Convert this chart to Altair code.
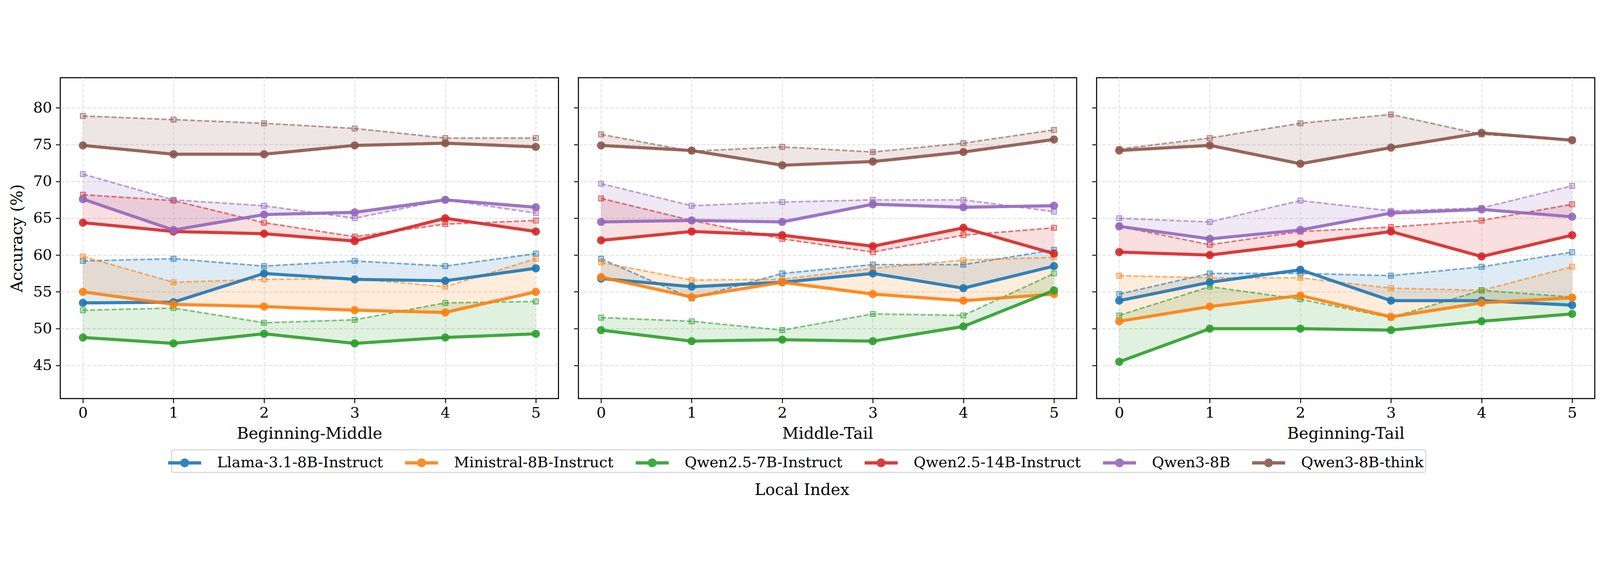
import math
import altair as alt
import pandas as pd

models = ["Llama-3.1-8B-Instruct", "Ministral-8B-Instruct", "Qwen2.5-7B-Instruct",
          "Qwen2.5-14B-Instruct", "Qwen3-8B", "Qwen3-8B-think"]
colors = ["#1f77b4", "#ff7f0e", "#2ca02c", "#d62728", "#9467bd", "#8c564b"]
panels = ["Beginning-Middle", "Middle-Tail", "Beginning-Tail"]
local_index = [0, 1, 2, 3, 4, 5]
y_ticks = [45, 50, 55, 60, 65, 70, 75, 80]

# solid lines (circle markers), one row per model in `models` order
bm_solid = [
    [53.5, 53.6, 57.5, 56.7, 56.5, 58.2],
    [55.0, 53.3, 53.0, 52.5, 52.2, 55.0],
    [48.8, 48.0, 49.3, 48.0, 48.8, 49.3],
    [64.4, 63.2, 62.9, 61.9, 65.0, 63.2],
    [67.6, 63.4, 65.5, 65.8, 67.5, 66.5],
    [74.9, 73.7, 73.7, 74.9, 75.2, 74.7],
]
# dashed lines (square markers)
bm_dashed = [
    [59.2, 59.5, 58.5, 59.2, 58.5, 60.2],
    [59.8, 56.3, 56.7, 56.8, 55.7, 59.5],
    [52.5, 52.8, 50.8, 51.2, 53.5, 53.7],
    [68.2, 67.4, 64.4, 62.5, 64.2, 64.7],
    [71.0, 67.5, 66.7, 65.0, 67.5, 65.7],
    [78.9, 78.4, 77.9, 77.2, 75.9, 75.9],
]
mt_solid = [
    [56.8, 55.7, 56.3, 57.5, 55.5, 58.5],
    [57.0, 54.3, 56.3, 54.7, 53.8, 54.7],
    [49.8, 48.3, 48.5, 48.3, 50.3, 55.2],
    [62.0, 63.2, 62.7, 61.2, 63.7, 60.2],
    [64.5, 64.7, 64.5, 66.9, 66.5, 66.7],
    [74.9, 74.2, 72.2, 72.7, 74.0, 75.7],
]
mt_dashed = [
    [59.5, 54.1, 57.5, 58.7, 58.7, 60.7],
    [59.0, 56.6, 56.7, 58.2, 59.3, 59.7],
    [51.5, 51.0, 49.8, 52.0, 51.8, 57.5],
    [67.7, 64.7, 62.2, 60.4, 62.7, 63.7],
    [69.7, 66.7, 67.2, 67.5, 67.5, 65.9],
    [76.4, 74.1, 74.7, 74.0, 75.2, 77.0],
]
bt_solid = [
    [53.8, 56.3, 58.0, 53.8, 53.8, 53.2],
    [51.0, 53.0, 54.5, 51.6, 53.5, 54.2],
    [45.5, 50.0, 50.0, 49.8, 51.0, 52.0],
    [60.4, 60.0, 61.5, 63.2, 59.8, 62.7],
    [63.9, 62.2, 63.4, 65.7, 66.2, 65.2],
    [74.2, 74.9, 72.4, 74.6, 76.6, 75.6],
]
bt_dashed = [
    [54.7, 57.5, 57.5, 57.2, 58.4, 60.4],
    [57.2, 56.9, 56.9, 55.5, 55.2, 58.4],
    [51.8, 55.7, 54.0, 51.5, 55.2, 54.3],
    [63.9, 61.4, 63.2, 63.8, 64.7, 66.9],
    [65.0, 64.5, 67.4, 66.0, 66.4, 69.4],
    [74.4, 75.9, 77.9, 79.1, 76.4, 75.7],
]

FONT = "DejaVu Serif"
W, H = 1674, 1078

all_vals = [v for grp in (bm_solid, bm_dashed, mt_solid, mt_dashed, bt_solid, bt_dashed)
            for row in grp for v in row]
y_dom = [min(all_vals) - 5, max(all_vals) + 5]

# legend glyph: thick line with a dot (polygonal circle)
circ = " ".join(
    ("M" if k == 0 else "L") + f"{0.4 * math.cos(2 * math.pi * k / 24):.3f},"
    f"{0.4 * math.sin(2 * math.pi * k / 24):.3f}" for k in range(24)) + " Z"
legend_path = "M-1.5,-0.15 L1.5,-0.15 L1.5,0.15 L-1.5,0.15 Z " + circ

legend = alt.Legend(
    orient="none", legendX=374, legendY=1250, direction="horizontal", columns=6,
    title=None, symbolType=legend_path, symbolSize=5476, symbolStrokeWidth=0,
    symbolOpacity=0.9, labelFont=FONT, labelFontSize=50, labelColor="black",
    labelLimit=3000, labelOffset=72, columnPadding=73, padding=7,
    strokeColor="#d4d4d4", cornerRadius=8, fillColor="white",
)
color = alt.Color("model:N", scale=alt.Scale(domain=models, range=colors), legend=legend)
stroke = alt.Stroke("model:N", scale=alt.Scale(domain=models, range=colors), legend=None)


def panel(name, solid, dashed, first):
    rows = []
    for m, s, d in zip(models, solid, dashed):
        for i, a, b in zip(local_index, s, d):
            rows.append({"model": m, "idx": i, "solid": a, "dashed": b})
    df = pd.DataFrame(rows)
    x = alt.X("idx:Q", scale=alt.Scale(domain=[-0.25, 5.25], nice=False, zero=False),
              axis=alt.Axis(values=local_index, format="d", title=name))
    yscale = alt.Scale(domain=y_dom, nice=False, zero=False)
    if first:
        yaxis = alt.Axis(values=y_ticks, title="Accuracy (%)")
    else:
        yaxis = alt.Axis(values=y_ticks, title=None, labels=False)
    base = alt.Chart(df)
    area = base.mark_area(opacity=0.15).encode(
        x=x, y=alt.Y("solid:Q", scale=yscale, axis=yaxis), y2="dashed:Q", color=color)
    dline = base.mark_line(strokeDash=[17, 7], strokeWidth=5.5, opacity=0.6).encode(
        x=x, y=alt.Y("dashed:Q", scale=yscale, axis=yaxis), color=color)
    sq = base.mark_square(size=290, filled=True, fillOpacity=0.3, strokeOpacity=0.65,
                          strokeWidth=3).encode(
        x=x, y=alt.Y("dashed:Q", scale=yscale, axis=yaxis), color=color, stroke=stroke)
    sline = base.mark_line(strokeWidth=10.5, opacity=0.9).encode(
        x=x, y=alt.Y("solid:Q", scale=yscale, axis=yaxis), color=color)
    dots = base.mark_circle(size=760, opacity=0.9).encode(
        x=x, y=alt.Y("solid:Q", scale=yscale, axis=yaxis), color=color)
    return alt.layer(area, dline, sq, sline, dots).properties(width=W, height=H)


chart = alt.hconcat(
    panel(panels[0], bm_solid, bm_dashed, True),
    panel(panels[1], mt_solid, mt_dashed, False),
    panel(panels[2], bt_solid, bt_dashed, False),
    spacing=46,
).resolve_scale(color="shared").properties(
    title=alt.TitleParams("Local Index", orient="bottom", anchor="middle", font=FONT,
                          fontSize=54, fontWeight="normal", color="black", offset=31),
    padding={"left": 18, "top": 23, "right": 5, "bottom": 5},
).configure_view(stroke="black", strokeWidth=3.5).configure_axis(
    labelFont=FONT, labelFontSize=50, labelColor="black",
    titleFont=FONT, titleFontSize=54, titleFontWeight="normal", titleColor="black",
    tickColor="black", tickWidth=3, tickSize=15, domain=False,
    gridColor="#e0e0e0", gridDash=[12, 6], gridWidth=3,
).configure_axisY(labelPadding=13, titlePadding=26).configure_axisX(
    labelPadding=8, titlePadding=18
).configure_legend(strokeWidth=3.5)

chart.save("out.html", embed_options={"renderer": "svg", "actions": False})
